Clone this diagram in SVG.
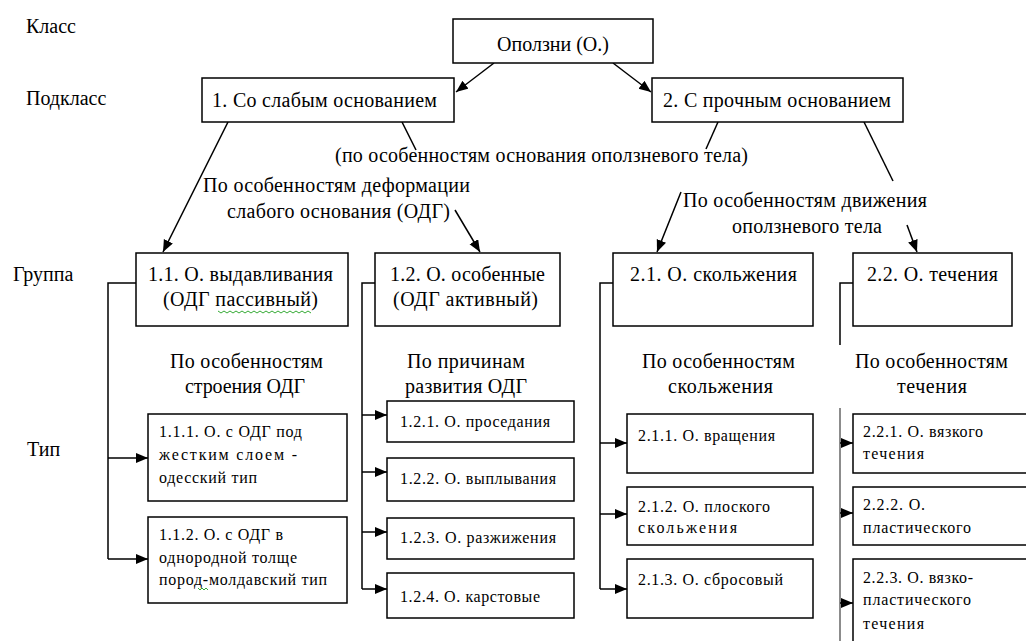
<svg xmlns="http://www.w3.org/2000/svg" width="1026" height="641" viewBox="0 0 1026 641" font-family="'Liberation Serif', 'Times New Roman', 'DejaVu Serif', Times, serif">
<style>
  text { font-family: 'Liberation Serif', 'Times New Roman', 'DejaVu Serif', Times, serif; fill: #000; }
  .lv { font-size: 20px; }
  .b { font-size: 20px; }
  .m { text-anchor: middle; }
  .s { font-size: 16px; }
  rect.box { fill: #fff; stroke: #000; stroke-width: 1.5; }
  .con line, .con path { stroke: #000; stroke-width: 1.5; fill: none; }
  .con .gray { stroke: #666; }
  .sq { stroke: #3a3; stroke-width: 1; fill: none; }
</style>
<defs>
  <marker id="ah" markerUnits="userSpaceOnUse" markerWidth="13" markerHeight="11" refX="12" refY="5" orient="auto">
    <path d="M0,0 L12,5 L0,10 z" fill="#000"/>
  </marker>
</defs>
<rect width="1026" height="641" fill="#fff"/>

<g id="levels">
  <text class="lv" x="26" y="33">Класс</text>
  <text class="lv" x="26" y="105">Подкласс</text>
  <text class="lv" x="13" y="281">Группа</text>
  <text class="lv" x="27" y="456">Тип</text>
</g>

<g class="con" id="connectors">
  <line x1="494" y1="63" x2="456" y2="92" marker-end="url(#ah)"/>
  <line x1="613" y1="63" x2="651" y2="92" marker-end="url(#ah)"/>
  <line x1="228" y1="122" x2="163" y2="252" marker-end="url(#ah)"/>
  <line x1="402" y1="122" x2="416" y2="150"/>
  <line x1="718" y1="122" x2="706" y2="149"/>
  <line x1="864" y1="122" x2="893" y2="181"/>
  <line x1="455" y1="210" x2="480" y2="252" marker-end="url(#ah)"/>
  <line x1="681" y1="192" x2="657" y2="252" marker-end="url(#ah)"/>
  <line x1="907" y1="225" x2="917" y2="252" marker-end="url(#ah)"/>

  <path d="M136,283 H108 V559"/>
  <line x1="108" y1="458" x2="148" y2="458" marker-end="url(#ah)"/>
  <line x1="108" y1="559" x2="148" y2="559" marker-end="url(#ah)"/>

  <path d="M375,283 H362 V589"/>
  <line x1="362" y1="415" x2="387" y2="415" marker-end="url(#ah)"/>
  <line x1="362" y1="472" x2="387" y2="472" marker-end="url(#ah)"/>
  <line x1="362" y1="532" x2="387" y2="532" marker-end="url(#ah)"/>
  <line x1="362" y1="589" x2="387" y2="589" marker-end="url(#ah)"/>

  <path d="M613,283 H600 V589"/>
  <line x1="600" y1="443" x2="627" y2="443" marker-end="url(#ah)"/>
  <line x1="600" y1="514" x2="627" y2="514" marker-end="url(#ah)"/>
  <line x1="600" y1="589" x2="627" y2="589" marker-end="url(#ah)"/>

  <path d="M853,283 H840 V345"/>
  <path class="gray" d="M840,408 V641"/>
  <line x1="840" y1="443" x2="853" y2="443" marker-end="url(#ah)"/>
  <line x1="840" y1="513" x2="853" y2="513" marker-end="url(#ah)"/>
  <line x1="840" y1="603" x2="853" y2="603" marker-end="url(#ah)"/>
</g>

<g id="n-root">
  <rect class="box" x="453" y="19" width="200" height="44"/>
  <text class="b m" x="553" y="51">Оползни (О.)</text>
</g>
<g id="n-1">
  <rect class="box" x="202" y="78" width="252" height="44"/>
  <text class="b" x="212" y="107" textLength="225" lengthAdjust="spacing">1. Со слабым основанием</text>
</g>
<g id="n-2">
  <rect class="box" x="652" y="78" width="251" height="44"/>
  <text class="b" x="663" y="107" textLength="228" lengthAdjust="spacing">2. С прочным основанием</text>
</g>

<g id="crit-base">
  <text class="b" x="335" y="162" textLength="413" lengthAdjust="spacing">(по особенностям основания оползневого тела)</text>
</g>
<g id="crit-deform">
  <text class="b" x="203" y="192" textLength="267" lengthAdjust="spacing">По особенностям деформации</text>
  <text class="b" x="227" y="218" textLength="223" lengthAdjust="spacing">слабого основания (ОДГ)</text>
</g>
<g id="crit-move">
  <text class="b" x="683" y="207" textLength="244" lengthAdjust="spacing">По особенностям движения</text>
  <text class="b" x="732" y="233" textLength="150" lengthAdjust="spacing">оползневого тела</text>
</g>

<g id="n-1-1">
  <rect class="box" x="136" y="253" width="212" height="73"/>
  <text class="b" x="148" y="281" textLength="185" lengthAdjust="spacing">1.1. О. выдавливания</text>
  <text class="b" x="163" y="306" textLength="155" lengthAdjust="spacing">(ОДГ пассивный)</text>
  <path class="sq" d="M218,311 l3,2 l3,-2 l3,2 l3,-2 l3,2 l3,-2 l3,2 l3,-2 l3,2 l3,-2 l3,2 l3,-2 l3,2 l3,-2 l3,2 l3,-2 l3,2 l3,-2 l3,2 l3,-2 l3,2 l3,-2 l3,2 l3,-2 l3,2 l3,-2 l3,2 l3,-2 l3,2 l3,-2 l3,2"/>
</g>
<g id="n-1-2">
  <rect class="box" x="375" y="253" width="185" height="73"/>
  <text class="b" x="390" y="281" textLength="155" lengthAdjust="spacing">1.2. О. особенные</text>
  <text class="b" x="393" y="306" textLength="145" lengthAdjust="spacing">(ОДГ активный)</text>
</g>
<g id="n-2-1">
  <rect class="box" x="613" y="253" width="200" height="73"/>
  <text class="b" x="630" y="281" textLength="167" lengthAdjust="spacing">2.1. О. скольжения</text>
</g>
<g id="n-2-2">
  <rect class="box" x="853" y="253" width="159" height="73"/>
  <text class="b" x="867" y="281" textLength="131" lengthAdjust="spacing">2.2. О. течения</text>
</g>

<g id="crit-struct">
  <text class="b" x="170" y="368" textLength="153" lengthAdjust="spacing">По особенностям</text>
  <text class="b" x="185" y="393" textLength="120" lengthAdjust="spacing">строения ОДГ</text>
</g>
<g id="crit-cause">
  <text class="b" x="407" y="368" textLength="118" lengthAdjust="spacing">По причинам</text>
  <text class="b" x="405" y="393" textLength="122" lengthAdjust="spacing">развития ОДГ</text>
</g>
<g id="crit-slide">
  <text class="b" x="642" y="368" textLength="153" lengthAdjust="spacing">По особенностям</text>
  <text class="b" x="668" y="393" textLength="105" lengthAdjust="spacing">скольжения</text>
</g>
<g id="crit-flow">
  <text class="b" x="855" y="368" textLength="153" lengthAdjust="spacing">По особенностям</text>
  <text class="b" x="897" y="393" textLength="70" lengthAdjust="spacing">течения</text>
</g>

<g id="n-1-1-1">
  <rect class="box" x="148" y="414" width="199" height="87"/>
  <text class="s" x="159" y="437" textLength="143" lengthAdjust="spacing">1.1.1. О. с ОДГ под</text>
  <text class="s" x="159" y="460" textLength="138" lengthAdjust="spacing">жестким слоем  -</text>
  <text class="s" x="159" y="483" textLength="98" lengthAdjust="spacing">одесский тип</text>
</g>
<g id="n-1-1-2">
  <rect class="box" x="148" y="517" width="199" height="86"/>
  <text class="s" x="159" y="540" textLength="124" lengthAdjust="spacing">1.1.2. О. с ОДГ в</text>
  <text class="s" x="159" y="563" textLength="138" lengthAdjust="spacing">однородной толще</text>
  <text class="s" x="159" y="585" textLength="168" lengthAdjust="spacing">пород-молдавский тип</text>
  <path class="sq" d="M198,588 l2,2 l2,-2 l2,2 l2,-2 l2,2"/>
</g>

<g id="n-1-2-1">
  <rect class="box" x="387" y="401" width="187" height="41"/>
  <text class="s" x="400" y="427" textLength="150" lengthAdjust="spacing">1.2.1. О. проседания</text>
</g>
<g id="n-1-2-2">
  <rect class="box" x="387" y="458" width="187" height="43"/>
  <text class="s" x="400" y="484" textLength="156" lengthAdjust="spacing">1.2.2. О. выплывания</text>
</g>
<g id="n-1-2-3">
  <rect class="box" x="387" y="518" width="187" height="41"/>
  <text class="s" x="400" y="543" textLength="156" lengthAdjust="spacing">1.2.3. О. разжижения</text>
</g>
<g id="n-1-2-4">
  <rect class="box" x="387" y="573" width="187" height="45"/>
  <text class="s" x="400" y="602" textLength="140" lengthAdjust="spacing">1.2.4. О. карстовые</text>
</g>

<g id="n-2-1-1">
  <rect class="box" x="627" y="414" width="186" height="59"/>
  <text class="s" x="638" y="441" textLength="137" lengthAdjust="spacing">2.1.1. О. вращения</text>
</g>
<g id="n-2-1-2">
  <rect class="box" x="627" y="487" width="186" height="58"/>
  <text class="s" x="638" y="512" textLength="132" lengthAdjust="spacing">2.1.2. О. плоского</text>
  <text class="s" x="638" y="533" textLength="99" lengthAdjust="spacing">скольжения</text>
</g>
<g id="n-2-1-3">
  <rect class="box" x="627" y="559" width="186" height="59"/>
  <text class="s" x="638" y="585" textLength="145" lengthAdjust="spacing">2.1.3. О. сбросовый</text>
</g>

<g id="n-2-2-1">
  <rect class="box" x="853" y="414" width="180" height="59"/>
  <text class="s" x="863" y="437" textLength="120" lengthAdjust="spacing">2.2.1. О. вязкого</text>
  <text class="s" x="863" y="459" textLength="61" lengthAdjust="spacing">течения</text>
</g>
<g id="n-2-2-2">
  <rect class="box" x="853" y="487" width="180" height="58"/>
  <text class="s" x="863" y="510" textLength="62" lengthAdjust="spacing">2.2.2. О.</text>
  <text class="s" x="863" y="533" textLength="108" lengthAdjust="spacing">пластического</text>
</g>
<g id="n-2-2-3">
  <rect class="box" x="853" y="559" width="180" height="90"/>
  <text class="s" x="863" y="583" textLength="110" lengthAdjust="spacing">2.2.3. О. вязко-</text>
  <text class="s" x="863" y="605" textLength="108" lengthAdjust="spacing">пластического</text>
  <text class="s" x="863" y="629" textLength="61" lengthAdjust="spacing">течения</text>
</g>
</svg>
